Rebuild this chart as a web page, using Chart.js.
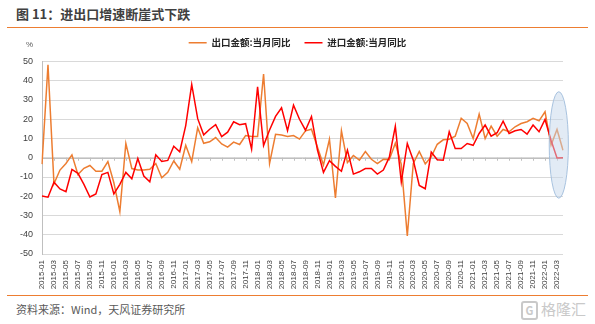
<!DOCTYPE html>
<html>
<head>
<meta charset="utf-8">
<script src="https://cdn.jsdelivr.net/npm/chart.js@4.4.0/dist/chart.umd.min.js"></script>
<style>
  body { margin: 0; background: #fff; }
  #wrap { position: relative; width: 595px; height: 324px; overflow: hidden; font-family: "Noto Sans CJK SC", "Liberation Sans", sans-serif; }
  #title { position: absolute; left: 16px; top: 4px; font-size: 13px; font-weight: bold; color: #404040; white-space: nowrap; }
  .rule { position: absolute; left: 7px; width: 581px; border-top: 1.5px solid #ED7D31; }
  #source { position: absolute; left: 16px; top: 301px; font-size: 11px; color: #595959; white-space: nowrap; }
  #mark { position: absolute; left: 521px; top: 298px; color: #c9c9c9; font-size: 15px; white-space: nowrap; }
  #mark .logo { display: inline-block; width: 13px; height: 15px; line-height: 15px; border: 2px solid #c9c9c9; border-radius: 3px; font-size: 11px; text-align: center; font-weight: bold; vertical-align: middle; margin-right: 3px; }
  #chart { position: absolute; left: 0; top: 24px; }
</style>
</head>
<body>
<div id="wrap">
  <div id="title">图 11：进出口增速断崖式下跌</div>
  <div class="rule" style="top:27px"></div>
  <canvas id="chart" width="595" height="270"></canvas>
  <div class="rule" style="top:295px"></div>
  <div id="source">资料来源：Wind，天风证券研究所</div>
  <div id="mark"><span class="logo">G</span>格隆汇</div>
</div>
<script>
// =============== DATA ===============

// months 2015-01 .. 2022-04
const months = [];
for (let y = 2015; y <= 2022; y++) {
  for (let m = 1; m <= 12; m++) {
    if (y === 2022 && m > 4) break;
    months.push(y + '-' + String(m).padStart(2, '0'));
  }
}

const seriesNames = ['出口金额:当月同比', '进口金额:当月同比'];

// 出口金额:当月同比 (%)
const exportYoY = [
  -3.3, 48.3, -13.5, -6.4, -3.0, 1.5, -8.7, -5.5, -4.0, -7.0, -7.0, -2.0,
  -13.0, -28.0, 7.5, -5.6, -6.4, -6.4, -6.0, -3.0, -10.4, -7.6, -1.7, -6.0,
  6.5, -2.0, 15.6, 7.5, 8.3, 10.5, 7.2, 5.5, 8.1, 6.9, 11.5, 11.0,
  11.0, 43.5, -3.0, 12.2, 11.8, 11.0, 11.5, 9.7, 14.0, 14.8, 5.4, -3.8,
  9.6, -20.9, 14.0, -2.5, 1.2, -1.2, 3.2, -0.8, -3.0, -0.8, -0.9, 7.6,
  -3.5, -40.6, -3.0, 3.3, -3.2, 0.5, 7.0, 9.3, 9.6, 11.2, 20.5, 17.8,
  10.0, 22.7, 10.0, 16.4, 11.2, 14.7, 13.5, 16.1, 17.8, 18.7, 20.5, 19.2,
  23.9, 6.5, 14.7, 3.9
];

// 进口金额:当月同比 (%)
const importYoY = [
  -19.9, -20.5, -12.7, -16.2, -17.6, -6.1, -8.1, -13.8, -20.4, -18.8, -8.7, -7.6,
  -18.8, -13.8, -7.6, -10.9, -0.4, -9.5, -12.5, 1.5, -1.9, -1.4, 6.0, 3.1,
  16.7, 38.1, 20.3, 11.9, 14.8, 17.2, 11.0, 13.3, 18.7, 17.2, 17.7, 4.5,
  36.9, 6.3, 14.4, 21.5, 26.0, 14.1, 27.3, 20.0, 14.3, 21.4, 4.0, -7.6,
  -1.5, -4.5, -7.0, 4.0, -8.5, -7.3, -5.6, -5.6, -8.5, -6.4, 0.3, 16.3,
  -12.6, 7.4, -1.3, -14.4, -16.1, 3.0, -1.0, -1.3, 13.5, 4.8, 4.8, 7.4,
  6.5, 12.6, 17.0, 11.2, 13.0, 19.0, 12.6, 14.0, 14.7, 12.3, 17.0, 13.5,
  19.9, 9.1, -0.1, 0.0
];

const yMin = -50;
const yMax = 50;
const yStep = 10;

// =============== PLUGINS ===============

// extra space under the legend, and legend moved a bit to the right
const legendTweak = {
  id: 'legendTweak',
  beforeInit(chart) {
    const origFit = chart.legend.fit;
    chart.legend.fit = function () {
      origFit.bind(chart.legend)();
      this.height += 4;
    };
    const origDraw = chart.legend.draw;
    chart.legend.draw = function () {
      this.left += 32;
      origDraw.call(this);
      this.left -= 32;
    };
  }
};

// "%" unit, zero axis ticks
const axisExtras = {
  id: 'axisExtras',
  beforeDatasetsDraw(chart) {
    const { ctx, chartArea, scales } = chart;
    const y0 = scales.y.getPixelForValue(0);
    ctx.save();
    ctx.strokeStyle = '#bfbfbf';
    ctx.lineWidth = 1;
    ctx.beginPath();
    ctx.moveTo(chartArea.left, Math.round(y0) + 0.5);
    ctx.lineTo(chartArea.right, Math.round(y0) + 0.5);
    for (let i = 0; i < months.length; i += 2) {
      const x = Math.round(scales.x.getPixelForValue(i)) + 0.5;
      ctx.moveTo(x, y0);
      ctx.lineTo(x, y0 + 3);
    }
    ctx.stroke();
    ctx.fillStyle = '#595959';
    ctx.font = '8px "Liberation Sans", sans-serif';
    ctx.textAlign = 'left';
    ctx.textBaseline = 'middle';
    ctx.fillText('%', chartArea.left - 16, chartArea.top - 17);
    ctx.restore();
  }
};

// highlight ellipse on the last months
const highlight = {
  id: 'highlight',
  afterDatasetsDraw(chart) {
    const { ctx, scales } = chart;
    const cx = scales.x.getPixelForValue(86.3);
    const rx = scales.x.getPixelForValue(87.9) - cx;
    const top = scales.y.getPixelForValue(34.3);
    const bottom = scales.y.getPixelForValue(-21);
    ctx.save();
    ctx.beginPath();
    ctx.ellipse(cx, (top + bottom) / 2, rx, (bottom - top) / 2, 0, 0, Math.PI * 2);
    ctx.fillStyle = 'rgba(198, 215, 236, 0.5)';
    ctx.fill();
    ctx.strokeStyle = 'rgba(160, 188, 220, 0.9)';
    ctx.lineWidth = 1;
    ctx.stroke();
    ctx.restore();
  }
};

// =============== CHART ===============
function renderChart() {
  const ctx = document.getElementById('chart');
  if (!ctx) return;

  Chart.defaults.font.family = '"Liberation Sans", "Noto Sans CJK SC", sans-serif';

  new Chart(ctx, {
    type: 'line',
    data: {
      labels: months,
      datasets: [{
        label: seriesNames[0],
        data: exportYoY,
        borderColor: '#ED7D31',
        backgroundColor: '#ED7D31',
        borderWidth: 1.5,
        pointRadius: 0,
        tension: 0,
        order: 1
      }, {
        label: seriesNames[1],
        data: importYoY,
        borderColor: '#FF0000',
        backgroundColor: '#FF0000',
        borderWidth: 1.5,
        pointRadius: 0,
        tension: 0,
        order: 0
      }]
    },
    options: {
      responsive: false,
      animation: false,
      layout: { padding: { top: 0, right: 32, bottom: 0, left: 0 } },
      plugins: {
        legend: {
          position: 'top',
          labels: {
            usePointStyle: true,
            pointStyle: 'line',
            pointStyleWidth: 18,
            boxWidth: 18,
            padding: 14,
            color: '#262626',
            font: { size: 9.5, weight: 'bold', family: '"Noto Sans CJK SC", sans-serif' },
            sort: (a, b) => a.datasetIndex - b.datasetIndex
          }
        },
        tooltip: { enabled: false }
      },
      scales: {
        x: {
          offset: false,
          grid: { display: false, drawTicks: false },
          border: { display: false },
          ticks: {
            autoSkip: false,
            maxRotation: 90,
            minRotation: 90,
            padding: 6,
            color: '#404040',
            font: { size: 8 },
            callback(value, index) {
              return index % 2 === 0 ? this.getLabelForValue(value) : '';
            }
          },
          afterFit(scale) { scale.height = 40; }
        },
        y: {
          min: yMin,
          max: yMax,
          ticks: {
            stepSize: yStep,
            padding: 9,
            color: '#404040',
            font: { size: 9 }
          },
          grid: { color: '#d9d9d9', drawTicks: false },
          border: { display: true, color: '#bfbfbf' },
          afterFit(scale) { scale.width = 42; }
        }
      }
    },
    plugins: [legendTweak, axisExtras, highlight]
  });
}

// Inicializa
renderChart();
</script>
</body>
</html>
